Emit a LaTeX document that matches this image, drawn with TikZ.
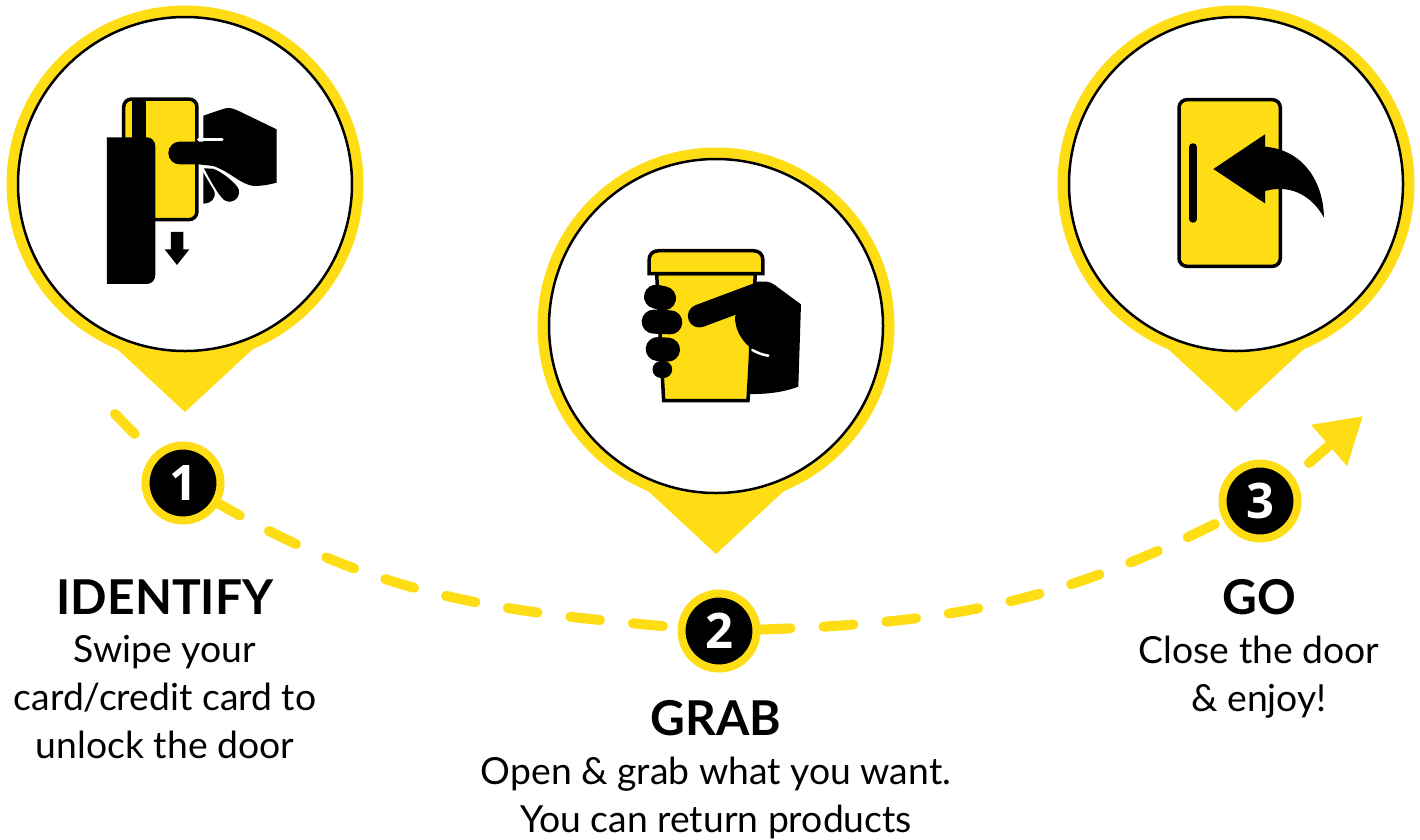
\documentclass[tikz,border=0pt]{standalone}
\usepackage{fontspec}
\setmainfont{Lato}
\newfontfamily\digitfont{Open Sans}
\usetikzlibrary{arrows.meta,positioning}
\definecolor{pinyellow}{RGB}{255,221,21}
\tikzset{
  pin/.style={circle,fill=pinyellow,inner sep=0pt,minimum size=357pt},
  face/.style={circle,fill=white,draw=black,line width=2.5pt,inner sep=0pt,minimum size=334pt},
  badge/.style={circle,fill=black,draw=pinyellow,line width=8pt,inner sep=0pt,minimum size=75pt,
    text=white,font=\digitfont\fontsize{49}{49}\selectfont\bfseries},
  trail/.style={draw=pinyellow,line width=10pt,line cap=round,dash pattern=on 30pt off 33pt,dash phase=6pt},
  headline/.style={inner sep=0pt,font=\fontsize{48}{48}\selectfont\bfseries},
  bodytext/.style={inner sep=0pt,align=center,font=\fontsize{37.3}{48}\selectfont},
  card/.style={fill=pinyellow,draw=black,line width=3.5pt,rounded corners=8pt},
  icon/.style={fill=black,draw=none}
}
\begin{document}
\begin{tikzpicture}[x=1pt,y=-1pt]
  \useasboundingbox (0,0) rectangle (1420,839);
  % pins
  \fill[pinyellow] (116,348) -- (185,412) -- (254,348) -- cycle;
  \fill[pinyellow] (647,490) -- (716,554) -- (785,490) -- cycle;
  \fill[pinyellow] (1167,348) -- (1236,412) -- (1305,348) -- cycle;
  \node[pin]  (pinA) at (185,184)  {};
  \node[pin]  (pinB) at (716,326)  {};
  \node[pin]  (pinC) at (1236,184) {};
  \node[face] (faceA) at (pinA) {};
  \node[face] (faceB) at (pinB) {};
  \node[face] (faceC) at (pinC) {};

  % card icon
  \begin{scope}[shift={(90,80)},x=.3333pt,y=-.3333pt]
    \draw[card] (101,57) rectangle (321,419);
    \fill[icon] (125,57) rectangle (168,180);
    \fill[icon] (51,172) -- (170,172) .. controls (186,172) and (196,184) .. (196,200)
      -- (196,584) .. controls (196,600) and (186,612) .. (170,612) -- (51,612) -- cycle;
    \fill[icon] (340,107) -- (405,85) .. controls (420,83) and (430,85) .. (440,90) -- (560,148)
      -- (560,308) .. controls (530,316) and (510,318) .. (490,318)
      .. controls (450,312) and (420,275) .. (370,258) -- (325,253) -- (269,253)
      .. controls (250,253) and (235,238) .. (235,219) .. controls (235,200) and (250,185) .. (269,185)
      -- (340,185) -- cycle;
    \draw[white,line width=3.5pt,line cap=round] (326,178) -- (396,178);
    \fill[icon] (340,278) -- (372,332) .. controls (382,355) and (360,372) .. (340,371) -- cycle;
    \fill[icon] (342,265) -- (368,266) .. controls (395,275) and (425,300) .. (442,320)
      .. controls (460,345) and (430,378) .. (402,360) .. controls (385,345) and (360,300) .. (342,265) -- cycle;
    \fill[icon] (243,456) -- (280,456) -- (280,508) -- (298,508) -- (261,555) -- (224,508) -- (243,508) -- cycle;
  \end{scope}

  % cup icon
  \begin{scope}[shift={(620,235)},x=.3333pt,y=-.3333pt]
    \draw[fill=pinyellow,draw=black,line width=3.5pt] (110,116) -- (131,497) -- (384,497) -- (406,116) -- cycle;
    \draw[fill=pinyellow,draw=black,line width=3.5pt] (87,116) -- (87,77) .. controls (87,58) and (98,47) .. (117,47)
      -- (399,47) .. controls (418,47) and (429,58) .. (429,77) -- (429,116) -- cycle;
    \draw[black,line width=24pt,line cap=round] (108,185) -- (132,190);
    \draw[black,line width=24pt,line cap=round] (101,260) -- (151,262);
    \draw[black,line width=24pt,line cap=round] (113,342) -- (144,344);
    \draw[black,line width=17pt,line cap=round] (123,403) -- (131,403);
    \draw[black,line width=23pt,line cap=round] (238,243) -- (420,175);
    \fill[icon] (405,140) -- (440,140) .. controls (455,142) and (465,150) .. (475,158) -- (543,208)
      -- (535,455) .. controls (490,472) and (440,478) .. (385,477) -- (387,335)
      .. controls (360,310) and (345,280) .. (345,245) -- cycle;
    \draw[white,line width=2.5pt,line cap=round] (397,345) .. controls (415,355) and (430,360) .. (445,362);
  \end{scope}

  % door icon
  \begin{scope}[shift={(1160,85)},x=.3333pt,y=-.3333pt]
    \draw[card] (57,44) rectangle (361,544);
    \draw[black,line width=7.5pt,line cap=round] (99,186) -- (99,402);
    \fill[icon] (160,252) -- (315,148) -- (315,185) .. controls (430,195) and (490,290) .. (492,398)
      .. controls (460,340) and (400,295) .. (315,318) -- (315,355) -- cycle;
  \end{scope}

  % badges
  \node[badge] (stepA) at (183,483)  {1};
  \node[badge] (stepB) at (719,631)  {2};
  \node[badge] (stepC) at (1260,501) {3};

  % path
  \coordinate (pathstart) at (115,414);
  \coordinate (pathstem)  at (1309,463);
  \coordinate (pathtip)   at (1363,416);
  \draw[trail,dash pattern=on 28pt off 60pt,dash phase=0pt] (pathstart) -- (stepA);
  \draw[trail] (stepA) to[out=-30,in=175] (stepB);
  \draw[trail,dash phase=0pt] (stepB) to[out=2,in=-153] (stepC);
  \draw[draw=pinyellow,fill=pinyellow,line width=10pt,line cap=round,-{Triangle[width=52pt,length=45pt]}] (pathstem) -- (pathtip);

  % labels
  \node[headline] (headA) at (165,597) {IDENTIFY};
  \node[bodytext] (textA) [below=20.5pt of headA] {Swipe your\\card/credit card to\\unlock the door};
  \node[headline] (headB) at (716,718) {GRAB};
  \node[bodytext] (textB) [below=20.5pt of headB] {Open \& grab what you want.\\You can return products};
  \node[headline] (headC) at (1259,597) {GO};
  \node[bodytext] (textC) [below=20.5pt of headC] {Close the door\\\& enjoy!};
\end{tikzpicture}
\end{document}
